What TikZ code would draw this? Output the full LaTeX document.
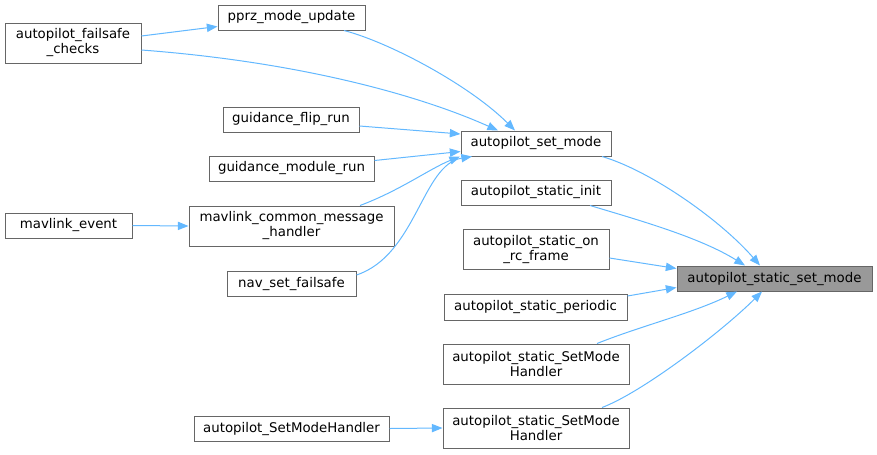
\documentclass[tikz,border=0pt]{standalone}
\usepackage{fontspec}
\setmainfont{DejaVu Sans}
\usetikzlibrary{arrows.meta}
\definecolor{edgeblue}{HTML}{63B8FF}
\definecolor{boxgray}{HTML}{666666}
\definecolor{hlfill}{HTML}{999999}
\tikzset{
  box/.style={draw=boxgray,line width=0.75pt,fill=white,inner sep=0pt,align=center,
    font=\fontsize{10}{11.25}\selectfont},
  hlbox/.style={box,fill=hlfill},
  edge/.style={draw=edgeblue,line width=0.75pt,-{Triangle[length=8pt,width=6.2pt]}}
}
\newcommand{\bx}[7][box]{\node[#1,minimum width={#5*0.75pt},minimum height={#6*0.75pt}] (#2) at (#3,#4) {#7};}
\begin{document}
\begin{tikzpicture}[x=0.75pt,y=-0.75pt]
\useasboundingbox (0,0) rectangle (877,454);
\bx{fc}{73}{43}{136}{40}{autopilot\_failsafe\\\_checks}
\bx{pmu}{291.5}{17.5}{147}{25}{pprz\_mode\_update}
\bx{flip}{291}{119.5}{136}{25}{guidance\_flip\_run}
\bx{gmr}{291.5}{168.5}{165}{25}{guidance\_module\_run}
\bx{mch}{291.5}{226}{205}{40}{mavlink\_common\_message\\\_handler}
\bx{nsf}{291.5}{283.5}{129}{25}{nav\_set\_failsafe}
\bx{mev}{68.5}{225.5}{127}{25}{mavlink\_event}
\bx{asm}{536}{143.5}{150}{25}{autopilot\_set\_mode}
\bx{asi}{536}{192.5}{150}{25}{autopilot\_static\_init}
\bx{rc}{536}{249}{146}{40}{autopilot\_static\_on\\\_rc\_frame}
\bx{per}{535.5}{307}{183}{26}{autopilot\_static\_periodic}
\bx{smh1}{536}{364}{186}{40}{autopilot\_static\_SetMode\\Handler}
\bx{smh2}{536}{428}{186}{40}{autopilot\_static\_SetMode\\Handler}
\bx{asmh}{291.5}{428.5}{195}{25}{autopilot\_SetModeHandler}
\bx[hlbox]{ssm}{774.5}{278.5}{195}{25}{autopilot\_static\_set\_mode}

\draw[edge] ([shift={(0,-7)}]fc.east) -- ([shift={(0,9)}]pmu.west);
\draw[edge] ([shift={(0,7)}]fc.east) .. controls +(159,12) and +(-78,-35) .. ([shift={(-38,0)}]asm.north);
\draw[edge] ([shift={(52.5,0)}]pmu.south) .. controls +(46,12) and +(-45,-45) .. ([shift={(-21,0)}]asm.north);
\draw[edge] ([shift={(0,6.5)}]flip.east) -- ([shift={(0,-9.5)}]asm.west);
\draw[edge] ([shift={(0,-8)}]gmr.east) -- ([shift={(0,8)}]asm.west);
\draw[edge] ([shift={(68.5,0)}]mch.north) .. controls +(40,-15) and +(-30,12) .. ([shift={(-76,0)}]asm.south);
\draw[edge] ([shift={(0,-8.5)}]nsf.east) .. controls +(60,-20) and +(-50,8) .. ([shift={(-64,0)}]asm.south);
\draw[edge] (mev.east) -- (mch.west);
\draw[edge] ([shift={(66,0)}]asm.south) .. controls +(48,14) and +(-40,-46) .. ([shift={(-14.5,0)}]ssm.north);
\draw[edge] ([shift={(54,0)}]asi.south) .. controls +(50,15) and +(-45,-28) .. ([shift={(-29.5,0)}]ssm.north);
\draw[edge] ([shift={(0,9)}]rc.east) -- ([shift={(0,-10)}]ssm.west);
\draw[edge] ([shift={(0,-11)}]per.east) -- ([shift={(0,9)}]ssm.west);
\draw[edge] ([shift={(61,0)}]smh1.north) .. controls +(45,-18) and +(-45,22) .. ([shift={(-37.5,0)}]ssm.south);
\draw[edge] ([shift={(66,0)}]smh2.north) .. controls +(40,-15) and +(-40,40) .. ([shift={(-12.5,0)}]ssm.south);
\draw[edge] (asmh.east) -- (smh2.west);
\end{tikzpicture}
\end{document}
